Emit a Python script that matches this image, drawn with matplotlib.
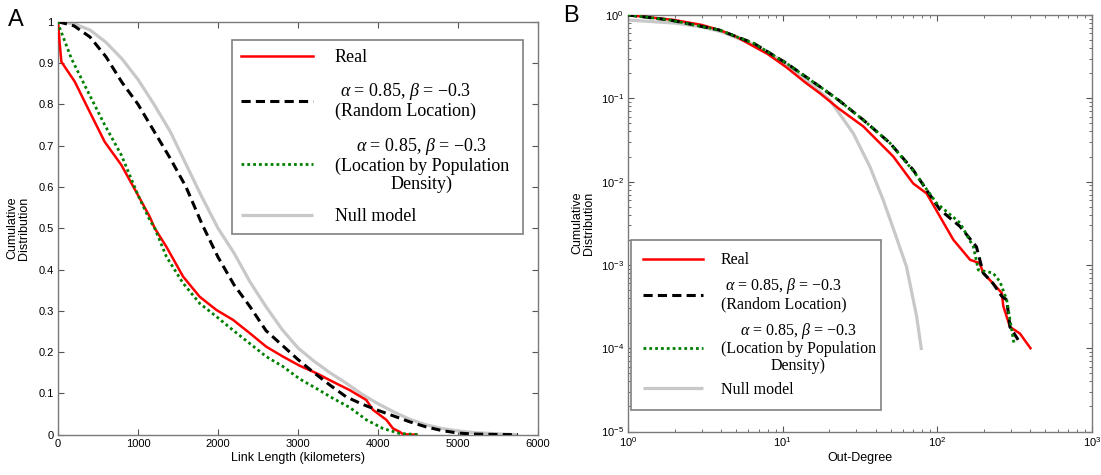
import matplotlib
matplotlib.use("Agg")
import matplotlib.pyplot as plt
import numpy as np

plt.rcParams['font.family'] = ['Liberation Sans', 'DejaVu Sans']
plt.rcParams['mathtext.default'] = 'regular'
plt.rcParams['mathtext.fontset'] = 'custom'
plt.rcParams['mathtext.it'] = 'Liberation Serif:italic'
plt.rcParams['mathtext.rm'] = 'Liberation Serif'

# ---------------- Panel A data (Link Length, km) ----------------
real_a_x = [0, 20, 42, 209, 375, 584, 792, 1000, 1146, 1209, 1355, 1563, 1771, 1980, 2188, 2396,
            2604, 2813, 3021, 3229, 3438, 3646, 3854, 3938, 4104, 4188, 4271, 4313, 4480]
real_a_y = [1.0, 0.95, 0.903, 0.855, 0.79, 0.709, 0.653, 0.58, 0.528, 0.50, 0.455, 0.383, 0.334,
            0.302, 0.278, 0.246, 0.213, 0.189, 0.167, 0.149, 0.128, 0.108, 0.084, 0.06, 0.036,
            0.015, 0.007, 0.001, 0.0]

rand_a_x = [0, 200, 400, 600, 800, 1000, 1200, 1400, 1600, 1800, 2000, 2200, 2400, 2600, 2800,
            3000, 3200, 3400, 3600, 3800, 4000, 4200, 4400, 4600, 4800, 5000, 5200, 5500, 5750]
rand_a_y = [1.0, 0.99, 0.963, 0.915, 0.853, 0.80, 0.735, 0.67, 0.60, 0.51, 0.43, 0.363, 0.31,
            0.252, 0.217, 0.182, 0.15, 0.12, 0.092, 0.074, 0.059, 0.045, 0.031, 0.019, 0.010,
            0.004, 0.0015, 0.0005, 0.0]

pop_a_x = [0, 21, 167, 375, 584, 792, 1000, 1146, 1209, 1355, 1563, 1771, 1980, 2188, 2396, 2604,
           2813, 3021, 3229, 3438, 3646, 3854, 4063, 4271, 4521]
pop_a_y = [1.0, 0.985, 0.911, 0.83, 0.75, 0.677, 0.58, 0.52, 0.50, 0.431, 0.367, 0.318, 0.286,
           0.253, 0.221, 0.189, 0.165, 0.135, 0.112, 0.088, 0.066, 0.036, 0.015, 0.003, 0.0]

null_a_x = [0, 200, 400, 600, 800, 1000, 1200, 1400, 1600, 1800, 2000, 2200, 2400, 2600, 2800,
            3000, 3200, 3400, 3600, 3800, 4000, 4200, 4400, 4600, 4800, 5000, 5200, 5500, 5750]
null_a_y = [1.0, 0.995, 0.98, 0.95, 0.91, 0.86, 0.80, 0.735, 0.655, 0.575, 0.50, 0.44, 0.37,
            0.31, 0.255, 0.21, 0.178, 0.15, 0.125, 0.098, 0.075, 0.055, 0.037, 0.024, 0.015,
            0.009, 0.005, 0.002, 0.0]

# ---------------- Panel B data (Out-Degree) ----------------
real_b_x = [1, 2, 3, 4, 5, 6.5, 8, 10.6, 14, 17.4, 22.9, 33.2, 51.9, 69.8, 85.3, 104, 127, 163,
            188, 198, 229, 261, 267, 295, 342, 400]
real_b_y = [1.0, 0.87, 0.76, 0.65, 0.55, 0.42, 0.34, 0.235, 0.155, 0.115, 0.076, 0.046, 0.02,
            0.0095, 0.0072, 0.0038, 0.002, 0.00115, 0.00105, 0.0008, 0.0006, 0.00046, 0.00032,
            0.00018, 0.00015, 0.0001]

rand_b_x = [1, 1.87, 3.9, 6.5, 10.6, 17.4, 23, 33.2, 49.4, 69.8, 85.3, 104, 140, 179, 198, 229,
            261, 281, 295, 333]
rand_b_y = [1.0, 0.87, 0.66, 0.457, 0.263, 0.138, 0.095, 0.055, 0.029, 0.0138, 0.0079, 0.0046,
            0.0029, 0.00165, 0.0008, 0.0006, 0.00042, 0.00038, 0.00018, 0.000126]

pop_b_x = [1, 1.87, 3.9, 6.5, 10.6, 17.4, 23, 33.2, 49.4, 69.8, 77, 99, 140, 171, 184, 229, 254,
           281, 310, 315]
pop_b_y = [1.0, 0.87, 0.66, 0.457, 0.263, 0.138, 0.095, 0.055, 0.029, 0.0135, 0.0105, 0.0055,
           0.0032, 0.00165, 0.00087, 0.0008, 0.00063, 0.00038, 0.000126, 0.00011]

null_b_x = [1, 2, 3, 4, 6, 8, 10, 14, 20.2, 28.6, 36.7, 44.7, 53.2, 63.2, 73.5, 79]
null_b_y = [0.87, 0.8, 0.72, 0.63, 0.47, 0.36, 0.275, 0.17, 0.095, 0.038, 0.015, 0.006, 0.0024,
            0.00095, 0.00024, 0.000095]

labels = ['Real',
          '$\\mathit{\\alpha}$ = 0.85, $\\mathit{\\beta}$ = \u22120.3\n(Random Location)',
          '$\\mathit{\\alpha}$ = 0.85, $\\mathit{\\beta}$ = \u22120.3\n(Location by Population\nDensity)',
          'Null model']

fig = plt.figure(figsize=(11.01, 4.75), dpi=100)
axA = fig.add_axes([58 / 1101, 1 - 434.7 / 475, 480 / 1101, 413 / 475])
axB = fig.add_axes([628 / 1101, 1 - 431.5 / 475, 464 / 1101, 416.5 / 475])

RED = '#ff0000'
GREEN = '#008000'
GRAY = '#c8c8c8'


def draw(ax, d):
    (rx, ry), (bx, by), (gx, gy), (nx, ny) = d
    hn, = ax.plot(nx, ny, color=GRAY, lw=2.3, solid_capstyle='butt', zorder=2)
    hr, = ax.plot(rx, ry, color=RED, lw=1.8, zorder=3)
    hb, = ax.plot(bx, by, color='black', lw=2.2, dashes=(3, 1.7), zorder=4)
    hg, = ax.plot(gx, gy, color=GREEN, lw=2.0, dashes=(1, 1.1), zorder=4)
    return [hr, hb, hg, hn]


def style(ax):
    for s in ax.spines.values():
        s.set_color('#7a7a7a')
        s.set_linewidth(1.0)
    ax.tick_params(direction='in', which='both', top=True, right=True, labelsize=8,
                   color='#555555', pad=3)
    ax.tick_params(which='major', length=4)
    ax.tick_params(which='minor', length=2.5)


handles = draw(axA, [(real_a_x, real_a_y), (rand_a_x, rand_a_y), (pop_a_x, pop_a_y),
                     (null_a_x, null_a_y)])
axA.set_xlim(0, 6000)
axA.set_ylim(0, 1)
axA.set_xticks(range(0, 6001, 1000))
axA.set_xticklabels([str(v) for v in range(0, 6001, 1000)])
yt = [i / 10 for i in range(11)]
axA.set_yticks(yt)
axA.set_yticklabels(['0'] + ['%.1f' % v for v in yt[1:-1]] + ['1'])
style(axA)
axA.set_xlabel('Link Length (kilometers)', fontsize=9, labelpad=2)
axA.set_ylabel('Cumulative\nDistribution', fontsize=9, labelpad=6, linespacing=1.0)

legA = axA.legend(handles, labels, loc='upper left', bbox_to_anchor=(0.362, 0.956, 0.606, 0.0),
                  mode='expand', fancybox=False, framealpha=1, edgecolor='#808080',
                  prop={'family': 'Liberation Serif', 'size': 13}, handlelength=4.0,
                  handletextpad=1.2, labelspacing=0.85, borderpad=0.5, borderaxespad=0)
legA.get_frame().set_linewidth(1.2)
for t in legA.get_texts():
    t.set_multialignment('center')
    t.set_linespacing(1.05)

handlesB = draw(axB, [(real_b_x, real_b_y), (rand_b_x, rand_b_y), (pop_b_x, pop_b_y),
                      (null_b_x, null_b_y)])
axB.set_xscale('log')
axB.set_yscale('log')
axB.set_xlim(1, 1000)
axB.set_ylim(1e-5, 1)
axB.set_xticks([1, 10, 100, 1000])
axB.set_xticklabels(['$10^{0}$', '$10^{1}$', '$10^{2}$', '$10^{3}$'])
axB.set_yticks([1e-5, 1e-4, 1e-3, 1e-2, 1e-1, 1])
axB.set_yticklabels(['$10^{-5}$', '$10^{-4}$', '$10^{-3}$', '$10^{-2}$', '$10^{-1}$', '$10^{0}$'])
axB.yaxis.set_minor_locator(matplotlib.ticker.LogLocator(base=10, subs=np.arange(2, 10)))
axB.xaxis.set_minor_locator(matplotlib.ticker.LogLocator(base=10, subs=np.arange(2, 10)))
axB.yaxis.set_minor_formatter(matplotlib.ticker.NullFormatter())
axB.xaxis.set_minor_formatter(matplotlib.ticker.NullFormatter())
style(axB)
axB.set_xlabel('Out-Degree', fontsize=9, labelpad=2)
axB.set_ylabel('Cumulative\nDistribution', fontsize=9, labelpad=4, linespacing=1.0)

legB = axB.legend(handlesB, labels, loc='lower left', bbox_to_anchor=(0.006, 0.052, 0.54, 0.0),
                  mode='expand', fancybox=False, framealpha=1, edgecolor='#808080',
                  prop={'family': 'Liberation Serif', 'size': 11.5}, handlelength=3.8,
                  handletextpad=1.1, labelspacing=0.5, borderpad=0.75, borderaxespad=0)
legB.get_frame().set_linewidth(1.2)
for t in legB.get_texts():
    t.set_multialignment('center')
    t.set_linespacing(1.05)

fig.text(8 / 1101, 1 - 20 / 475, 'A', fontsize=17, va='center', ha='left')
fig.text(563 / 1101, 1 - 16 / 475, 'B', fontsize=17, va='center', ha='left')

fig.savefig('out.png', dpi=100)
